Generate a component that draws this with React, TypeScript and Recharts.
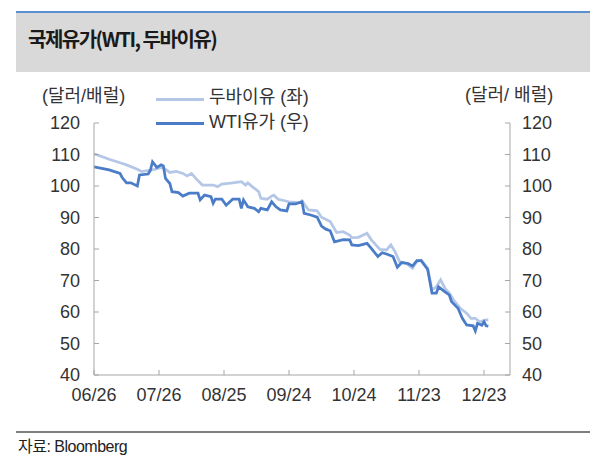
import React from 'react';
import { LineChart, Line, XAxis, YAxis } from 'recharts';

// 두바이유 (좌) — dates (MM/DD) and values (USD/bbl)
const dubaiDates = [
  '06/26', '07/03', '07/08', '07/11', '07/16', '07/18', '07/24', '07/27', '07/29', '07/31',
  '08/03', '08/06', '08/08', '08/10', '08/12', '08/15', '08/20', '08/22', '08/24', '08/29',
  '09/02', '09/04', '09/05', '09/07', '09/10', '09/11', '09/14', '09/16', '09/17', '09/19',
  '09/24', '09/29', '09/30', '10/03', '10/07', '10/09', '10/13', '10/16', '10/19', '10/22',
  '10/23', '10/26', '10/30', '11/01', '11/05', '11/08', '11/10', '11/12', '11/14', '11/17',
  '11/20', '11/22', '11/24', '11/27', '11/29', '12/01', '12/03', '12/05', '12/07', '12/09',
  '12/12', '12/15', '12/17', '12/19', '12/21', '12/24', '12/25',
];
const dubaiValues = [
  110.2, 108.5, 107.4, 106.7, 105.3, 104.6, 105.3, 105.9, 105.3, 104.3,
  104.6, 104.0, 103.2, 104.0, 102.4, 100.3, 100.3, 99.8, 100.6, 101.0,
  101.4, 100.3, 101.0, 99.8, 98.2, 96.1, 95.8, 96.8, 97.1, 95.8,
  95.0, 94.7, 95.3, 92.4, 92.1, 90.1, 88.7, 85.2, 85.5, 84.4,
  83.6, 83.7, 85.0, 82.9, 79.9, 79.7, 81.3, 79.1, 76.0, 75.4,
  73.9, 76.0, 76.5, 73.9, 67.0, 68.0, 70.2, 67.5, 66.0, 63.8,
  61.2, 59.6, 58.0, 58.0, 56.9, 57.5, 57.5,
];

// WTI유가 (우)
const wtiDates = [
  '06/26', '07/03', '07/08', '07/09', '07/11', '07/13', '07/16', '07/17', '07/21', '07/22',
  '07/23', '07/25', '07/27', '07/28', '07/29', '07/31', '08/01', '08/04', '08/06', '08/09',
  '08/13', '08/14', '08/16', '08/19', '08/20', '08/21', '08/24', '08/26', '08/29', '09/01',
  '09/02', '09/03', '09/05', '09/08', '09/10', '09/11', '09/14', '09/16', '09/18', '09/20',
  '09/23', '09/24', '09/27', '09/30', '10/01', '10/04', '10/07', '10/09', '10/11', '10/13',
  '10/15', '10/19', '10/22', '10/23', '10/26', '10/30', '11/01', '11/04', '11/06', '11/08',
  '11/11', '11/13', '11/15', '11/18', '11/20', '11/22', '11/24', '11/27', '11/29', '12/01',
  '12/02', '12/05', '12/07', '12/08', '12/11', '12/13', '12/15', '12/18', '12/19', '12/20',
  '12/22', '12/23', '12/24', '12/25',
];
const wtiValues = [
  106.1, 105.1, 104.0, 102.7, 101.0, 101.0, 100.0, 103.5, 103.8, 104.9,
  107.7, 105.9, 106.7, 106.4, 102.4, 100.8, 98.2, 97.9, 96.8, 97.7,
  97.7, 95.6, 97.1, 96.6, 94.5, 95.8, 95.8, 93.9, 95.8, 95.8,
  92.9, 95.6, 93.4, 92.9, 91.8, 92.9, 92.4, 95.0, 93.4, 92.4,
  92.1, 94.3, 94.3, 95.0, 91.3, 90.8, 90.1, 87.3, 86.3, 85.8,
  82.3, 83.0, 82.9, 81.3, 81.1, 81.8, 80.2, 77.6, 78.8, 78.4,
  77.6, 74.2, 75.7, 75.4, 74.6, 76.3, 76.3, 73.5, 66.0, 66.0,
  68.0, 66.4, 65.4, 63.3, 61.2, 58.0, 55.9, 55.6, 54.0, 56.4,
  55.8, 56.9, 55.6, 55.5,
];

const xTickLabels = ['06/26', '07/26', '08/25', '09/24', '10/24', '11/23', '12/23'];
const axisEndDate = '01/04';
const yTicks = [40, 50, 60, 70, 80, 90, 100, 110, 120];

const dayOffset = (md: string) => {
  const [m, d] = md.split('/').map(Number);
  const year = m < 6 ? 2015 : 2014;
  return Math.round((Date.UTC(year, m - 1, d) - Date.UTC(2014, 5, 26)) / 86400000);
};

const dubaiData = dubaiDates.map((d, i) => ({ day: dayOffset(d), value: dubaiValues[i] }));
const wtiData = wtiDates.map((d, i) => ({ day: dayOffset(d), value: wtiValues[i] }));
const xTicks = xTickLabels.map(dayOffset);
const labelOf: Record<number, string> = {};
xTickLabels.forEach((l) => { labelOf[dayOffset(l)] = l; });

const FONT = "'Liberation Sans', 'Noto Sans CJK KR', sans-serif";
const AXIS = '#a6a6a6';
const TXT = '#333333';
const LIGHT = '#b4c7e7';
const DARK = '#4a7cc7';
const LMARGIN = 14;
const RMARGIN = 12;
const BMARGIN = 13;

const LeftTick = (props: any) => {
  const { x, y, payload } = props;
  const ax = x + LMARGIN;
  return (
    <g>
      <line x1={ax} x2={ax + 5} y1={y} y2={y} stroke={AXIS} />
      <text x={x} y={y} dy="0.355em" textAnchor="end" fontSize={18} fill={TXT} fontFamily={FONT}>
        {payload.value}
      </text>
    </g>
  );
};

const RightTick = (props: any) => {
  const { x, y, payload } = props;
  const ax = x - RMARGIN;
  return (
    <g>
      <line x1={ax - 5} x2={ax} y1={y} y2={y} stroke={AXIS} />
      <text x={x} y={y} dy="0.355em" textAnchor="start" fontSize={18} fill={TXT} fontFamily={FONT}>
        {payload.value}
      </text>
    </g>
  );
};

const BottomTick = (props: any) => {
  const { x, y, payload } = props;
  const ay = y - BMARGIN;
  return (
    <g>
      <line x1={x} x2={x} y1={ay - 5} y2={ay} stroke={AXIS} />
      <text x={x} y={y} dy="0.71em" textAnchor="middle" fontSize={18} fill={TXT} fontFamily={FONT}>
        {labelOf[payload.value] ?? ''}
      </text>
    </g>
  );
};

export default function App() {
  return (
    <div style={{ position: 'absolute', left: 0, top: 0, width: 600, height: 466, background: '#fff', overflow: 'hidden', fontFamily: FONT }}>
      {/* title */}
      <div style={{ position: 'absolute', left: 16, top: 11, width: 574, height: 2, background: '#5b8fd0' }} />
      <div style={{ position: 'absolute', left: 16, top: 13, width: 574, height: 59, background: '#d9d9d9' }} />
      <div style={{ position: 'absolute', left: 28, top: 25, fontSize: 20, color: '#1a1a1a', letterSpacing: -1.5, fontWeight: 700, fontFamily: "'Noto Sans CJK KR', sans-serif", lineHeight: '28px', whiteSpace: 'nowrap' }}>
        국제유가(WTI, 두바이유)
      </div>

      <div style={{ position: 'absolute', left: 0, top: 0 }}>
        <LineChart width={600} height={466} margin={{ top: 123, right: 0, bottom: 61, left: 0 }}>
          <XAxis
            dataKey="day"
            type="number"
            domain={[0, dayOffset(axisEndDate)]}
            ticks={xTicks}
            interval={0}
            height={30}
            tickSize={0}
            tickMargin={BMARGIN}
            tickLine={false}
            axisLine={{ stroke: AXIS }}
            tick={<BottomTick />}
            allowDataOverflow
          />
          <YAxis
            yAxisId="left"
            orientation="left"
            width={94}
            domain={[40, 120]}
            ticks={yTicks}
            interval={0}
            tickSize={0}
            tickMargin={LMARGIN}
            tickLine={false}
            axisLine={{ stroke: AXIS }}
            tick={<LeftTick />}
          />
          <YAxis
            yAxisId="right"
            orientation="right"
            width={90}
            domain={[40, 120]}
            ticks={yTicks}
            interval={0}
            tickSize={0}
            tickMargin={RMARGIN}
            tickLine={false}
            axisLine={{ stroke: AXIS }}
            tick={<RightTick />}
          />
          <Line
            yAxisId="left"
            data={dubaiData}
            dataKey="value"
            type="linear"
            stroke={LIGHT}
            strokeWidth={2.75}
            dot={false}
            isAnimationActive={false}
          />
          <Line
            yAxisId="right"
            data={wtiData}
            dataKey="value"
            type="linear"
            stroke={DARK}
            strokeWidth={2.75}
            dot={false}
            isAnimationActive={false}
          />
        </LineChart>
      </div>

      {/* unit labels */}
      <div style={{ position: 'absolute', left: 42, top: 85, fontSize: 18, color: TXT, lineHeight: '22px', whiteSpace: 'nowrap' }}>(달러/배럴)</div>
      <div style={{ position: 'absolute', left: 465, top: 84, fontSize: 18, color: TXT, lineHeight: '22px', whiteSpace: 'nowrap' }}>(달러/ 배럴)</div>

      {/* legend */}
      <div style={{ position: 'absolute', left: 156, top: 98, width: 48, height: 3, background: LIGHT }} />
      <div style={{ position: 'absolute', left: 209, top: 86, fontSize: 18, color: TXT, lineHeight: '22px', whiteSpace: 'nowrap' }}>두바이유 (좌)</div>
      <div style={{ position: 'absolute', left: 156, top: 122, width: 48, height: 3, background: DARK }} />
      <div style={{ position: 'absolute', left: 209, top: 111, fontSize: 18, color: TXT, lineHeight: '22px', whiteSpace: 'nowrap' }}>WTI유가 (우)</div>

      {/* source */}
      <div style={{ position: 'absolute', left: 16, top: 431, width: 574, height: 2, background: '#7f7f7f' }} />
      <div style={{ position: 'absolute', left: 18, top: 437, fontSize: 16, color: '#222', letterSpacing: -0.5, lineHeight: '20px', whiteSpace: 'nowrap' }}>자료: Bloomberg</div>
    </div>
  );
}
